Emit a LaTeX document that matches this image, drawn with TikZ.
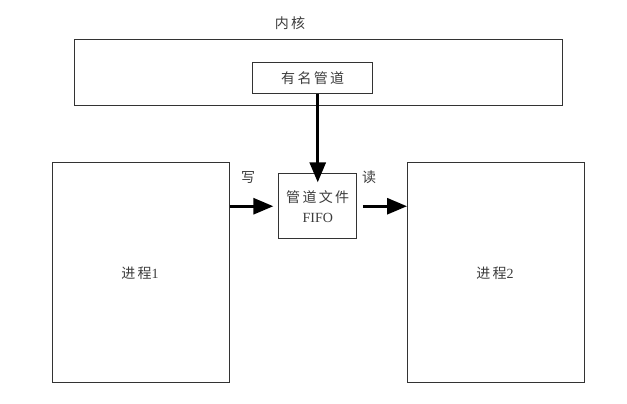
\documentclass[tikz,border=0pt]{standalone}
\usepackage{fontspec}
\setmainfont{Liberation Serif}
\newfontfamily\cjk{Noto Sans CJK SC}
\usetikzlibrary{arrows.meta}

\tikzset{every picture/.style={line width=0.75pt}}
\tikzset{
	box/.style={draw={rgb,255:red,51;green,51;blue,51}, line width=1.1pt, inner sep=0pt, anchor=north west},
	lbl/.style={inner sep=0.75pt, text={rgb,255:red,60;green,60;blue,60}, font=\cjk\fontsize{10.5}{12}\selectfont},
	flow/.style={line width=2.2pt, -{Triangle[length=15pt,width=12pt]}}
}

\begin{document}
\begin{tikzpicture}[x=0.75pt,y=0.75pt,yscale=-1,xscale=1]
	\useasboundingbox (0,0) rectangle (627,403);
	
	%Kernel
	\node [box, minimum width=366pt, minimum height=49.5pt] (kernel) at (74,39) {};
	\node [lbl] (kernellbl) at (290,23) {内\,核};
	%Named pipe
	\node [box, minimum width=90pt, minimum height=23.25pt] (pipe) at (252,62) {};
	\node [lbl] (pipelbl) at (pipe.center) {有\,名\,管\,道};
	%FIFO file
	\node [box, minimum width=58.5pt, minimum height=48.75pt, align=center] (fifo) at (278,173) {};
	\node [lbl, align=center] (fifolbl) at (fifo.center) {管\,道\,文\,件\\[3pt]{\rmfamily FIFO}};
	%Processes
	\node [box, minimum width=132.75pt, minimum height=165pt] (p1) at (52,162) {};
	\node [lbl] (p1lbl) at (140,273) {进\,程{\rmfamily 1}};
	\node [box, minimum width=132.75pt, minimum height=165pt] (p2) at (407,162) {};
	\node [lbl] (p2lbl) at (495,273) {进\,程{\rmfamily 2}};
	
	%Arrows
	\draw [flow, shorten >=-7pt] (pipe.south -| fifo.north) -- (fifo.north);
	\draw [flow, shorten >=3.5pt] (fifo.west -| p1.east) -- (fifo.west);
	\draw [flow, shorten <=4pt] (fifo.east) -- (fifo.east -| p2.west);
	
	% Text Node
	\node [lbl] (write) at (248,177) {写};
	% Text Node
	\node [lbl] (read) at (369,177) {读};
	
\end{tikzpicture}
\end{document}
